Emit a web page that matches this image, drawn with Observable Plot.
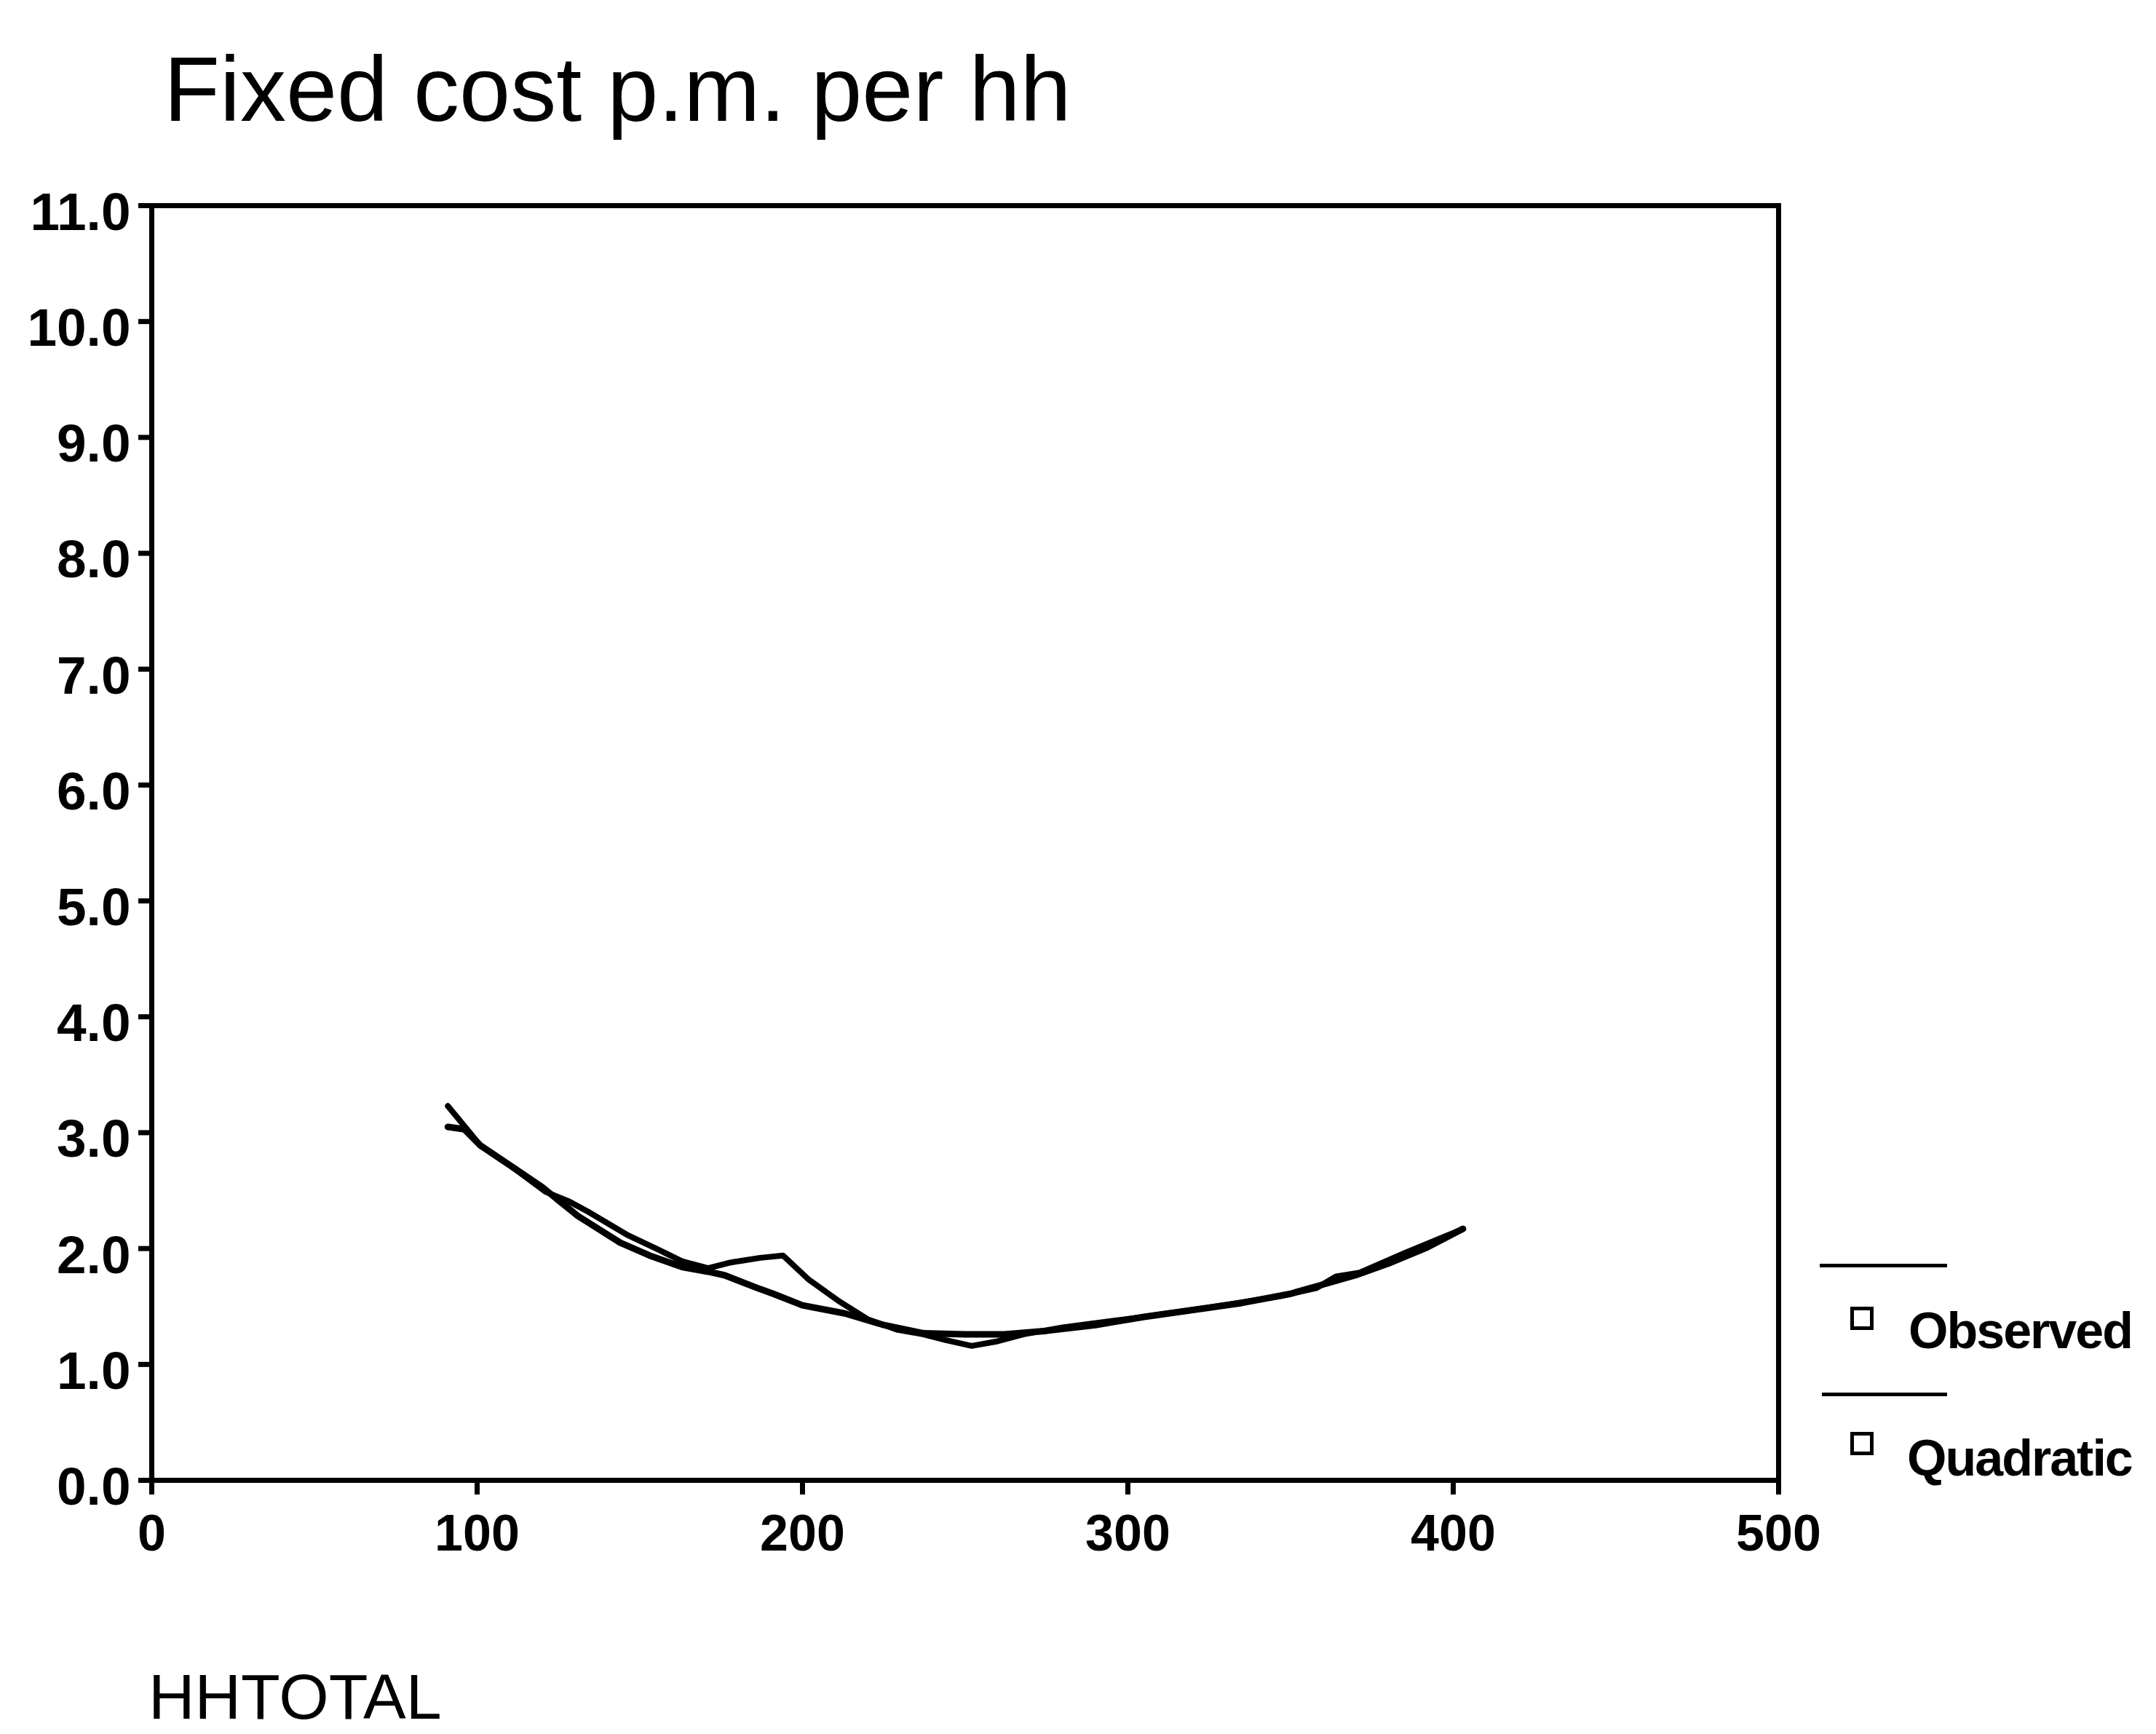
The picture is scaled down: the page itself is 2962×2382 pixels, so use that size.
<!DOCTYPE html>
<html>
<head>
<meta charset="utf-8">
<script src="https://cdn.jsdelivr.net/npm/d3@7"></script>
<script src="https://cdn.jsdelivr.net/npm/@observablehq/plot@0.6"></script>
<style>
  html, body { margin: 0; padding: 0; background: #fff; }
  #wrap { position: relative; width: 2962px; height: 2382px; font-family: "Liberation Sans", Arial, sans-serif; color: #000; }
  #title { position: relative; height: 200px; }
  #title span { position: absolute; left: 225px; top: 60px; font-size: 126px; line-height: 1; white-space: nowrap; }
  .abs { position: absolute; line-height: 1; white-space: nowrap; }
  .legline { position: absolute; height: 0; border-top: 5px solid #000; }
  .legsq { position: absolute; width: 22px; height: 22px; border: 5px solid #000; background: #fff; }
  .legtxt { position: absolute; font-size: 70px; font-weight: bold; letter-spacing: -2px; line-height: 1; white-space: nowrap; }
</style>
</head>
<body>
<div id="wrap">
  <div id="title"><span>Fixed cost p.m. per hh</span></div>
  <div id="chart"></div>
  <div class="abs" style="left:204px;top:2287px;font-size:88px;">HHTOTAL</div>
  <div class="legline" style="left:2500px;top:1736px;width:175px;"></div>
  <div class="legsq" style="left:2542px;top:1795px;"></div>
  <div class="legtxt" style="left:2622px;top:1793px;">Observed</div>
  <div class="legline" style="left:2503px;top:1913px;width:172px;"></div>
  <div class="legsq" style="left:2542px;top:1967px;"></div>
  <div class="legtxt" style="left:2620px;top:1968px;">Quadratic</div>
</div>
<script>
// Series values
const observedX = [91, 101, 110, 121, 128, 134, 146, 155, 163, 171, 178, 187, 194, 202, 211, 220, 229, 237, 244, 252, 260, 268, 280, 302, 325, 347, 358, 364, 371, 385, 403];
const observedY = [3.23, 2.89, 2.72, 2.49, 2.41, 2.32, 2.12, 2.00, 1.89, 1.83, 1.88, 1.92, 1.94, 1.73, 1.55, 1.39, 1.30, 1.26, 1.21, 1.16, 1.20, 1.26, 1.32, 1.40, 1.49, 1.59, 1.66, 1.76, 1.79, 1.96, 2.17];

const quadraticX = [91, 96, 101, 110, 120, 131, 144, 153, 163, 171, 176, 187, 191, 200, 213, 225, 237, 250, 262, 275, 290, 305, 320, 335, 350, 360, 370, 380, 392, 403];
const quadraticY = [3.05, 3.03, 2.89, 2.72, 2.53, 2.28, 2.05, 1.94, 1.84, 1.80, 1.77, 1.65, 1.61, 1.51, 1.44, 1.34, 1.27, 1.26, 1.26, 1.29, 1.34, 1.41, 1.47, 1.53, 1.61, 1.69, 1.77, 1.87, 2.01, 2.17];

const xTicks = [0, 100, 200, 300, 400, 500];
const yTicks = [0, 1, 2, 3, 4, 5, 6, 7, 8, 9, 10, 11];

const observed = observedX.map((x, i) => ({x, y: observedY[i]}));
const quadratic = quadraticX.map((x, i) => ({x, y: quadraticY[i]}));

const chart = Plot.plot({
  width: 2962,
  height: 2182,
  marginTop: 82,
  marginBottom: 349,
  marginLeft: 208,
  marginRight: 519,
  x: {domain: [0, 500]},
  y: {domain: [0, 11]},
  style: {
    fontFamily: "'Liberation Sans', Arial, sans-serif",
    fontWeight: "bold",
    fontSize: "70px",
    background: "#fff",
    color: "#000",
    overflow: "visible"
  },
  marks: [
    Plot.axisY({ticks: yTicks, tickSize: 18, tickFormat: () => "", strokeWidth: 7, label: null}),
    Plot.axisY({ticks: yTicks, tickSize: 0, tickPadding: 29, tickFormat: d => d.toFixed(1), fontSize: 73, dy: 10, label: null}),
    Plot.axisX({ticks: xTicks, tickSize: 20, tickPadding: 27, tickFormat: d => String(d), strokeWidth: 7, label: null}),
    Plot.frame({stroke: "#000", strokeWidth: 7}),
    Plot.line(quadratic, {x: "x", y: "y", stroke: "#000", strokeWidth: 9, strokeLinejoin: "round", strokeLinecap: "round"}),
    Plot.line(observed, {x: "x", y: "y", stroke: "#000", strokeWidth: 8, strokeLinejoin: "round", strokeLinecap: "round"})
  ]
});
document.getElementById("chart").appendChild(chart);
</script>
</body>
</html>
